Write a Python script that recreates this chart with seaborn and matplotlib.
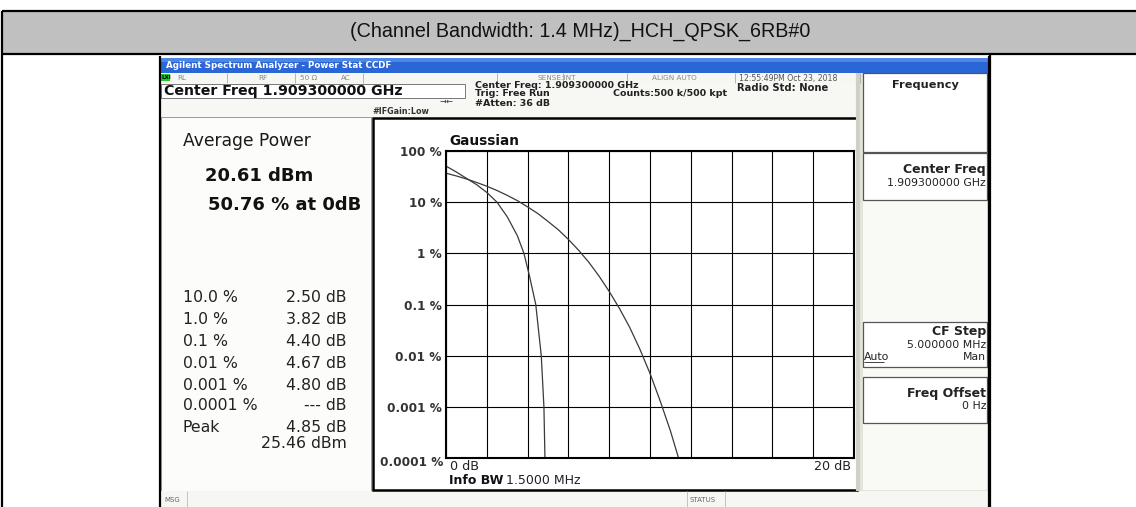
import matplotlib
matplotlib.use("Agg")
import matplotlib.pyplot as plt
from matplotlib.patches import Rectangle
import pandas as pd
import seaborn as sns

title = "(Channel Bandwidth: 1.4 MHz)_HCH_QPSK_6RB#0"

# CCDF traces (x in dB above average, y in %)
measured_db = [0.0, 0.5, 0.93, 1.5, 2.0, 2.5, 3.0, 3.5, 3.82, 4.1, 4.4, 4.67, 4.80, 4.85]
measured_pct = [50.76, 39.0, 30.5, 22.0, 15.5, 10.0, 5.2, 2.2, 1.0, 0.35, 0.1, 0.01, 0.001, 0.0001]
gauss_db = [0.0, 0.5, 1.0, 1.5, 2.0, 2.5, 3.0, 3.5, 4.0, 4.5, 5.0, 5.5, 6.0,
            6.5, 7.0, 7.5, 8.0, 8.5, 9.0, 9.5, 10.0, 10.5, 11.0, 11.4]
gauss_pct = [36.8, 32.6, 28.4, 24.3, 20.5, 16.9, 13.6, 10.7, 8.1, 6.0, 4.2, 2.9, 1.87,
             1.15, 0.67, 0.36, 0.18, 0.084, 0.036, 0.0135, 0.0045, 0.0013, 0.00034, 0.0001]

ytick_vals = [100, 10, 1, 0.1, 0.01, 0.001]
ytick_labels = ["100 %", "10 %", "1 %", "0.1 %", "0.01 %", "0.001 %"]
bottom_label = "0.0001 %"
xtick_vals = [0, 2, 4, 6, 8, 10, 12, 14, 16, 18, 20]

stat_labels = ["10.0 %", "1.0 %", "0.1 %", "0.01 %", "0.001 %", "0.0001 %", "Peak"]
stat_values = ["2.50 dB", "3.82 dB", "4.40 dB", "4.67 dB", "4.80 dB", "--- dB", "4.85 dB"]

sns.set_theme(style="white")
SCREEN = ["DejaVu Sans"]
plt.rcParams['font.family'] = SCREEN

fig = plt.figure(figsize=(11.36, 5.07), dpi=100)
bg = fig.add_axes([0, 0, 1, 1])
bg.set_xlim(0, 1136)
bg.set_ylim(507, 0)
bg.axis('off')


def box(x0, y0, x1, y1, fc='none', ec='none', lw=1.0, z=1):
    bg.add_patch(Rectangle((x0, y0), x1 - x0, y1 - y0, facecolor=fc,
                           edgecolor=ec, linewidth=lw, zorder=z))


def txt(x, y, s, size=8, ha='left', weight='normal', color='#111111', family=None, **kw):
    bg.text(x, y, s, fontsize=size, ha=ha, va='center', fontweight=weight,
            color=color, family=family or SCREEN, zorder=5, **kw)


def vline(x, y0, y1, color='black', lw=1.0):
    bg.plot([x, x], [y0, y1], color=color, lw=lw, zorder=4, solid_capstyle='butt')


def hline(y, x0, x1, color='black', lw=1.0):
    bg.plot([x0, x1], [y, y], color=color, lw=lw, zorder=4, solid_capstyle='butt')


# document table: grey title row + cell borders
box(2, 11, 1136, 53, fc='#c0c0c0')
hline(11, 2, 1136, lw=1.6)
hline(54, 2, 1136, lw=1.6)
vline(2, 11, 507, lw=1.6)
vline(990, 54, 507, lw=1.6)
txt(580, 31, title, size=14.2, ha='center', color='#111111',
    family=['Liberation Sans', 'DejaVu Sans'])

# screenshot frame
box(159, 56, 989, 507, fc='white')
vline(159.5, 56, 507, lw=1.6)
box(160, 58, 988, 73, fc='#2b66d6')
box(160, 58, 988, 62, fc='#4d86e6')
txt(166, 65.5, "Agilent Spectrum Analyzer - Power Stat CCDF", size=6.3, weight='bold', color='white')

# status row
box(160, 73, 988, 83, fc='#f6f6f2')
box(161, 74, 170, 81, fc='#22cc22')
txt(162, 77.5, "LXI", size=4, weight='bold', color='black')
for x in [227, 295, 363, 497, 563, 627, 735, 860]:
    vline(x, 73, 83, color='#aaaaaa', lw=0.6)
for x, s in [(177, "RL"), (258, "RF"), (300, "50 Ω"), (341, "AC"),
             (537, "SENSE:INT"), (652, "ALIGN AUTO")]:
    txt(x, 78, s, size=5.2, color='#888888')
txt(739, 78, "12:55:49PM Oct 23, 2018", size=5.6, color='#555555')

# settings rows
box(160, 83, 858, 117, fc='#f7f7f3')
box(161, 83.5, 465, 98, fc='white', ec='#777777', lw=0.7)
txt(164, 91, "Center Freq 1.909300000 GHz", size=10.2, weight='bold')
txt(475, 85, "Center Freq: 1.909300000 GHz", size=6.8, weight='bold', color='#222222')
txt(475, 94, "Trig: Free Run", size=6.8, weight='bold', color='#222222')
txt(475, 104, "#Atten: 36 dB", size=6.8, weight='bold', color='#222222')
txt(613, 94, "Counts:500 k/500 kpt", size=6.8, weight='bold', color='#222222')
txt(737, 88, "Radio Std: None", size=7.2, weight='bold', color='#222222')
txt(372, 112, "#IFGain:Low", size=5.8, weight='bold', color='#333333')
txt(440, 101, "→←", size=6, color='#333333')

# left results panel
box(161, 117, 371, 491, fc='#fcfcfa', ec='#999999', lw=0.7)
txt(183, 141, "Average Power", size=12.3, color='#1a1a1a')
txt(205, 176, "20.61 dBm", size=13, weight='bold')
txt(208, 205, "50.76 % at 0dB", size=13, weight='bold')
row_y = [298, 320, 342, 363, 385, 406, 428]
for y, lab, val in zip(row_y, stat_labels, stat_values):
    txt(183, y, lab, size=11.3, color='#222222')
    txt(347, y, val, size=11.3, ha='right', color='#222222')
txt(347, 443, "25.46 dBm", size=11.3, ha='right', color='#222222')

# plot frame
box(373, 118, 857, 490, fc='white')
bg.add_patch(Rectangle((373, 118), 484, 372, facecolor='none', edgecolor='black',
                       linewidth=1.8, zorder=4))
txt(449, 141, "Gaussian", size=9.8, weight='bold')
txt(450, 466, "0 dB", size=9.2, color='#222222')
txt(851, 466, "20 dB", size=9.2, ha='right', color='#222222')
txt(449, 480, "Info BW", size=9, weight='bold')
txt(506, 480, "1.5000 MHz", size=9, color='#222222')
txt(443, 462, bottom_label, size=8.7, ha='right', weight='bold', color='#333333')

# softkey column
box(858, 73, 988, 491, fc='#e4e4dc')
vline(858, 73, 491, color='#d0d0c4', lw=3)
keys = [(73, 152), (153, 200), (322, 367), (377, 423)]
box(863, 200, 987, 322, fc='#f9f9f6')
box(863, 423, 987, 490, fc='#f9f9f6')
box(863, 367, 987, 377, fc='#f9f9f6')
for y0, y1 in keys:
    box(863, y0, 987, y1, fc='white', ec='#555555', lw=0.9, z=2)
txt(925, 85, "Frequency", size=8.2, ha='center', weight='bold', color='#222222')
txt(986, 170, "Center Freq", size=9, ha='right', weight='bold', color='#222222')
txt(986, 183, "1.909300000 GHz", size=7.8, ha='right', color='#222222')
txt(986, 332, "CF Step", size=9, ha='right', weight='bold', color='#222222')
txt(986, 345, "5.000000 MHz", size=7.8, ha='right', color='#222222')
txt(864, 357, "Auto", size=7.8, color='#222222')
hline(362, 864, 884, color='#222222', lw=0.6)
txt(986, 357, "Man", size=7.8, ha='right', color='#222222')
txt(986, 393, "Freq Offset", size=9, ha='right', weight='bold', color='#222222')
txt(986, 406, "0 Hz", size=7.8, ha='right', color='#222222')
vline(988.5, 56, 507, lw=1.6)

# bottom status bar
box(160, 491, 988, 507, fc='#f6f6f2')
txt(164, 500, "MSG", size=5, color='#666666')
vline(187, 491, 507, color='#bbbbbb', lw=0.6)
vline(687, 491, 507, color='#bbbbbb', lw=0.6)
vline(725, 491, 507, color='#bbbbbb', lw=0.6)
txt(690, 500, "STATUS", size=5, color='#666666')

# CCDF plot
ax = fig.add_axes([446 / 1136, 1 - 458 / 507, 408 / 1136, 307 / 507])
ax.set_facecolor('none')
df = pd.concat([
    pd.DataFrame({'db': measured_db, 'pct': measured_pct, 'trace': 'measured'}),
    pd.DataFrame({'db': gauss_db, 'pct': gauss_pct, 'trace': 'gaussian'}),
])
sns.lineplot(data=df, x='db', y='pct', hue='trace', palette=['#3a3a3a', '#3a3a3a'],
             estimator=None, sort=False, lw=0.9, legend=False, ax=ax)
ax.set_yscale('log')
ax.set_xlim(0, 20)
ax.set_ylim(0.0001, 100)
ax.set_xticks(xtick_vals)
ax.set_xticklabels([])
ax.set_yticks(ytick_vals + [0.0001])
ax.set_yticklabels(ytick_labels + [''])
ax.minorticks_off()
ax.tick_params(axis='both', length=0, pad=3)
ax.tick_params(axis='y', labelsize=8.7, labelcolor='#333333')
for t in ax.get_yticklabels():
    t.set_fontweight('bold')
ax.grid(True, color='black', lw=0.8)
ax.set_xlabel('')
ax.set_ylabel('')
for s in ax.spines.values():
    s.set_color('black')
    s.set_linewidth(1.5)

fig.savefig('out.png', dpi=100)
